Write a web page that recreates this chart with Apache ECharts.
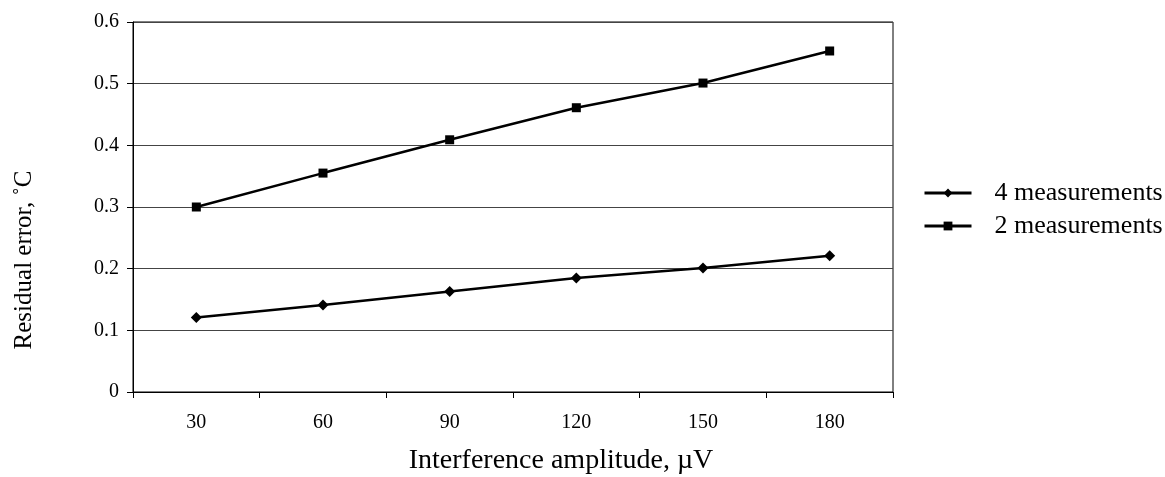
<!DOCTYPE html>
<html>
<head>
<meta charset="utf-8">
<script src="https://cdn.jsdelivr.net/npm/echarts@6/dist/echarts.min.js"></script>
<style>
    html, body { margin: 0; padding: 0; background: #fff; }
    #chart { width: 1165px; height: 477px; }
</style>
</head>
<body>
<div id="chart"></div>
<script>
    // 数据
    var categories = ['30', '60', '90', '120', '150', '180'];
    var fourMeas = [0.121, 0.141, 0.163, 0.185, 0.201, 0.221];
    var twoMeas = [0.300, 0.355, 0.409, 0.461, 0.501, 0.553];
    var yTicks = [0, 0.1, 0.2, 0.3, 0.4, 0.5, 0.6];

    var font = '"Liberation Serif", "Times New Roman", serif';

    var chart = echarts.init(document.getElementById('chart'));
    var option = {
        animation: false,
        textStyle: { fontFamily: font, color: '#000' },
        grid: {
            left: 133,
            right: 272,
            top: 22,
            bottom: 85,
            outerBoundsMode: 'none',
            containLabel: false,
            show: true,
            borderColor: '#000',
            borderWidth: 1
        },
        legend: {
            orient: 'vertical',
            left: 918,
            top: 175,
            itemWidth: 47,
            itemHeight: 11,
            itemGap: 7,
            lineStyle: { width: 3 },
            textStyle: { fontFamily: font, fontSize: 26, color: '#000', padding: [0, 0, 0, 18] },
            data: ['4 measurements', '2 measurements']
        },
        xAxis: {
            type: 'category',
            data: categories,
            boundaryGap: true,
            name: 'Interference amplitude, \u00b5V',
            nameLocation: 'middle',
            nameGap: 55,
            nameTextStyle: { fontFamily: font, fontSize: 28, color: '#000', padding: [0, 0, 0, 96] },
            axisLine: { lineStyle: { color: '#000', width: 1 } },
            axisTick: { show: true, interval: 0, length: 6, lineStyle: { color: '#000' } },
            axisLabel: { fontFamily: font, fontSize: 20, color: '#000', margin: 21 }
        },
        yAxis: {
            type: 'value',
            min: yTicks[0],
            max: yTicks[yTicks.length - 1],
            interval: 0.1,
            name: 'Residual error, \u02daC',
            nameLocation: 'middle',
            nameGap: 96,
            nameTextStyle: { fontFamily: font, fontSize: 25, color: '#000', padding: [0, 106, 0, 0] },
            axisLine: { show: true, lineStyle: { color: '#000', width: 1 } },
            axisTick: { show: true, length: 6, lineStyle: { color: '#000' } },
            axisLabel: { fontFamily: font, fontSize: 20, color: '#000', margin: 14 },
            splitLine: { show: true, lineStyle: { color: '#444', width: 1 } }
        },
        series: [
            {
                name: '4 measurements',
                type: 'line',
                data: fourMeas,
                symbol: 'diamond',
                symbolSize: 11,
                itemStyle: { color: '#000' },
                lineStyle: { color: '#000', width: 2.5 }
            },
            {
                name: '2 measurements',
                type: 'line',
                data: twoMeas,
                symbol: 'rect',
                symbolSize: 9,
                itemStyle: { color: '#000' },
                lineStyle: { color: '#000', width: 2.5 }
            }
        ]
    };
    chart.setOption(option, true);
</script>
</body>
</html>
